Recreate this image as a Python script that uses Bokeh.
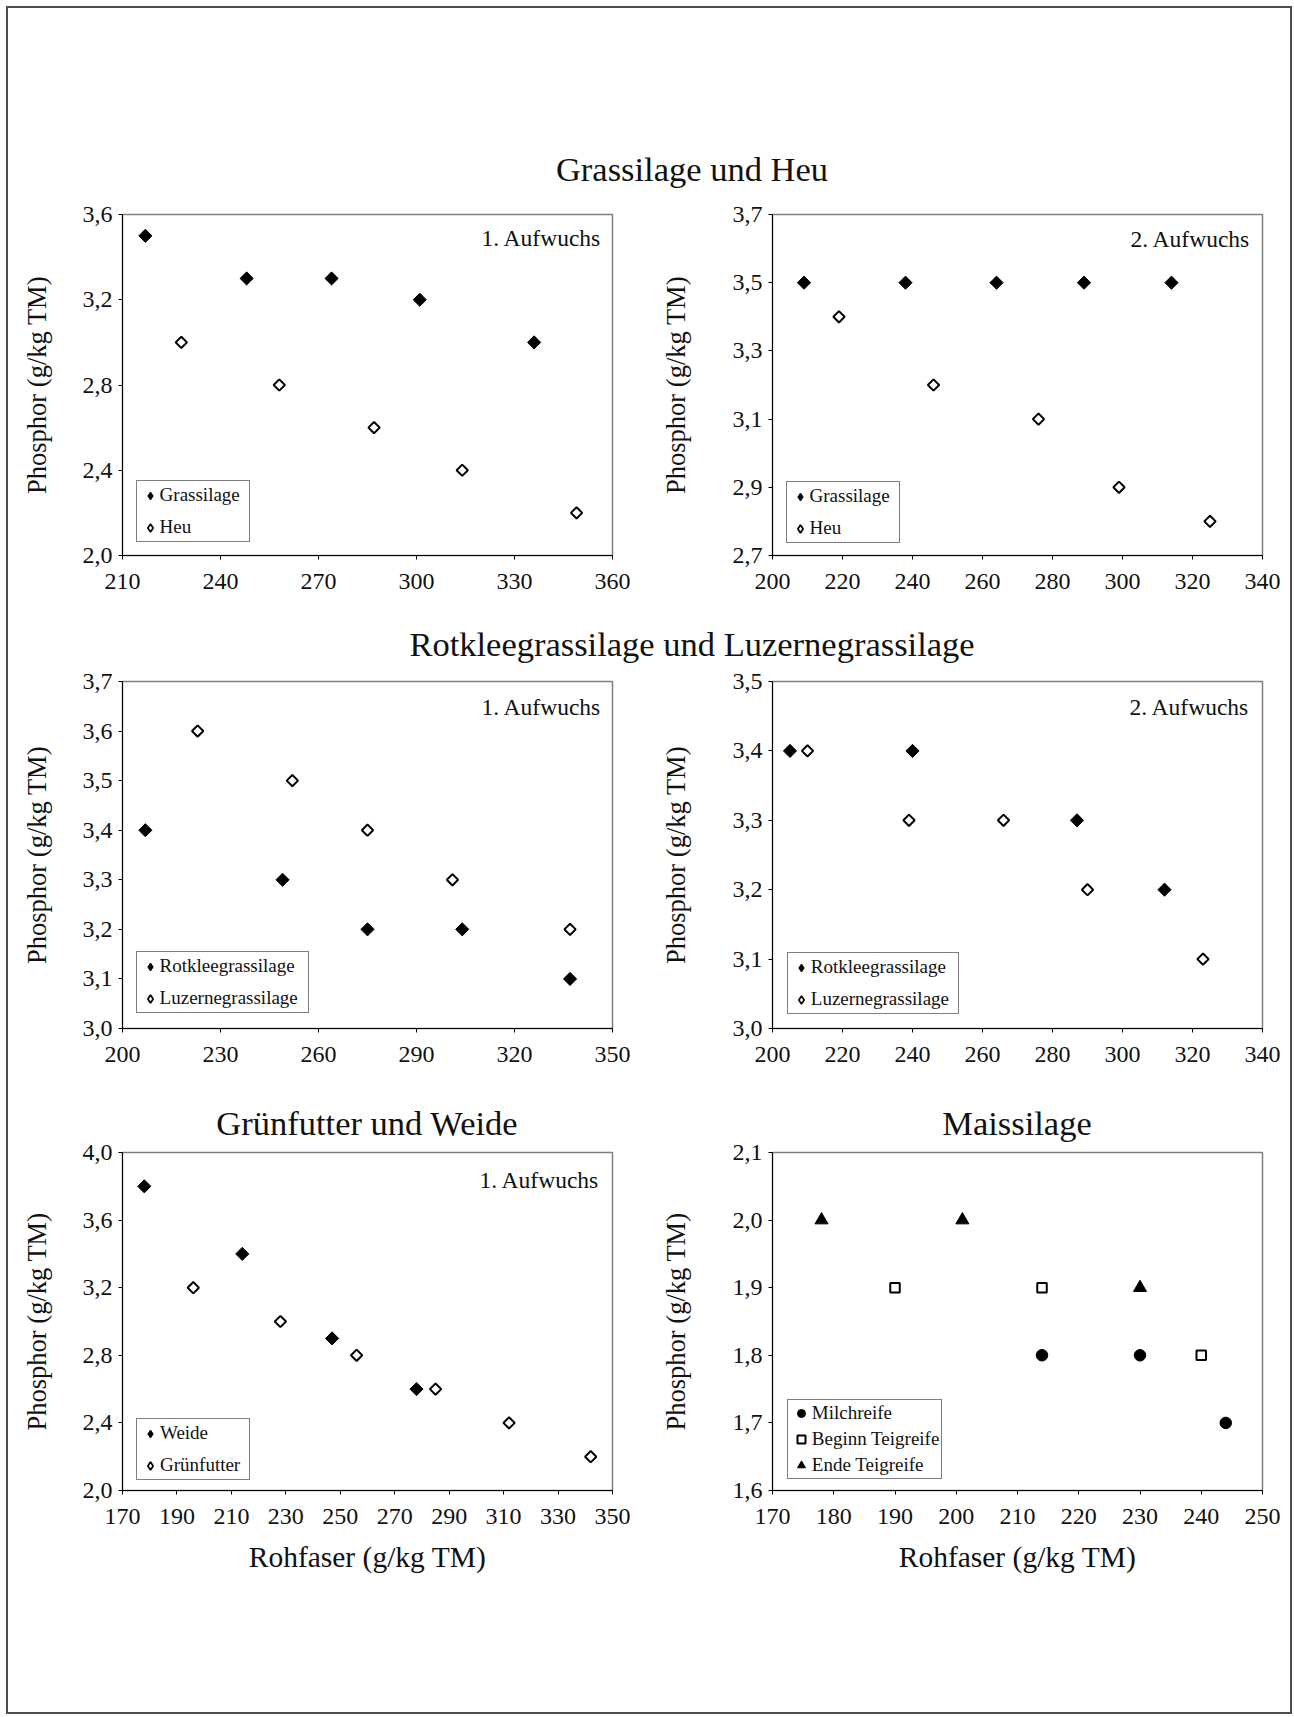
import math
from bokeh.plotting import figure
from bokeh.models import (Range1d, FixedTicker, CustomJSTickFormatter, Legend,
                          LegendItem, Label, Div)
from bokeh.layouts import column, row
from bokeh.core.properties import value
from bokeh.embed import file_html
from bokeh.resources import INLINE

FONT = "Liberation Serif"
TXT = "#111111"

# ---------------- data ----------------
# Grassilage und Heu, 1. Aufwuchs
gh1_gras_x = [217, 248, 274, 301, 336]
gh1_gras_y = [3.5, 3.3, 3.3, 3.2, 3.0]
gh1_heu_x = [228, 258, 287, 314, 349]
gh1_heu_y = [3.0, 2.8, 2.6, 2.4, 2.2]
gh1_xticks = [210, 240, 270, 300, 330, 360]
gh1_yticks = [2.0, 2.4, 2.8, 3.2, 3.6]

# Grassilage und Heu, 2. Aufwuchs
gh2_gras_x = [209, 238, 264, 289, 314]
gh2_gras_y = [3.5, 3.5, 3.5, 3.5, 3.5]
gh2_heu_x = [219, 246, 276, 299, 325]
gh2_heu_y = [3.4, 3.2, 3.1, 2.9, 2.8]
gh2_xticks = [200, 220, 240, 260, 280, 300, 320, 340]
gh2_yticks = [2.7, 2.9, 3.1, 3.3, 3.5, 3.7]

# Rotkleegrassilage und Luzernegrassilage, 1. Aufwuchs
rl1_rot_x = [207, 249, 275, 304, 337]
rl1_rot_y = [3.4, 3.3, 3.2, 3.2, 3.1]
rl1_luz_x = [223, 252, 275, 301, 337]
rl1_luz_y = [3.6, 3.5, 3.4, 3.3, 3.2]
rl1_xticks = [200, 230, 260, 290, 320, 350]
rl1_yticks = [3.0, 3.1, 3.2, 3.3, 3.4, 3.5, 3.6, 3.7]

# Rotkleegrassilage und Luzernegrassilage, 2. Aufwuchs
rl2_rot_x = [205, 240, 287, 312]
rl2_rot_y = [3.4, 3.4, 3.3, 3.2]
rl2_luz_x = [210, 239, 266, 290, 323]
rl2_luz_y = [3.4, 3.3, 3.3, 3.2, 3.1]
rl2_xticks = [200, 220, 240, 260, 280, 300, 320, 340]
rl2_yticks = [3.0, 3.1, 3.2, 3.3, 3.4, 3.5]

# Grünfutter und Weide, 1. Aufwuchs
gw_weide_x = [178, 214, 247, 278]
gw_weide_y = [3.8, 3.4, 2.9, 2.6]
gw_gruen_x = [196, 228, 256, 285, 312, 342]
gw_gruen_y = [3.2, 3.0, 2.8, 2.6, 2.4, 2.2]
gw_xticks = [170, 190, 210, 230, 250, 270, 290, 310, 330, 350]
gw_yticks = [2.0, 2.4, 2.8, 3.2, 3.6, 4.0]

# Maissilage
ms_milch_x = [214, 230, 244]
ms_milch_y = [1.8, 1.8, 1.7]
ms_beginn_x = [190, 214, 240]
ms_beginn_y = [1.9, 1.9, 1.8]
ms_ende_x = [178, 201, 230]
ms_ende_y = [2.0, 2.0, 1.9]
ms_xticks = [170, 180, 190, 200, 210, 220, 230, 240, 250]
ms_yticks = [1.6, 1.7, 1.8, 1.9, 2.0, 2.1]

Y_LABEL = "Phosphor (g/kg TM)"
X_LABEL = "Rohfaser (g/kg TM)"

# ---------------- layout geometry ----------------
W1, W2 = 631, 655                 # column widths
ML1, MR1 = 116, 25                # left col borders
ML2, MR2 = 135, 30                # right col borders
ROWS = [  # (height, top border, bottom border)
    (415, 14, 60),
    (423, 14, 62),
    (576, 14, 224),
]


def make_fig(col, rowi, xticks, yticks, xlabel=None):
    h, mt, mb = ROWS[rowi]
    w, ml, mr = (W1, ML1, MR1) if col == 0 else (W2, ML2, MR2)
    p = figure(width=w, height=h, title=None,
               x_range=Range1d(xticks[0], xticks[-1]),
               y_range=Range1d(yticks[0], yticks[-1]),
               toolbar_location=None, output_backend="svg",
               min_border_left=ml, min_border_right=mr,
               min_border_top=mt, min_border_bottom=mb,
               background_fill_color="white", border_fill_color=None,
               outline_line_color="#7f7f7f", outline_line_width=1.5)
    p.xgrid.visible = False
    p.ygrid.visible = False
    p.xaxis.ticker = FixedTicker(ticks=xticks)
    p.yaxis.ticker = FixedTicker(ticks=yticks)
    p.xaxis.formatter = CustomJSTickFormatter(code="return tick.toFixed(0);")
    p.yaxis.formatter = CustomJSTickFormatter(
        code="return tick.toFixed(1).replace('.', ',');")
    for ax in (p.xaxis[0], p.yaxis[0]):
        ax.axis_line_color = "black"
        ax.axis_line_width = 1
        ax.major_tick_line_color = "black"
        ax.major_tick_line_width = 1
        ax.major_tick_out = 4
        ax.major_tick_in = 0
        ax.minor_tick_line_color = None
        ax.major_label_text_font = FONT
        ax.major_label_text_font_size = "24px"
        ax.major_label_text_color = TXT
        ax.axis_label_text_font = FONT
        ax.axis_label_text_font_style = "normal"
        ax.axis_label_text_color = TXT
    p.yaxis.major_label_standoff = 6
    p.xaxis.major_label_standoff = 14
    p.yaxis.axis_label = Y_LABEL
    p.yaxis.axis_label_text_font_size = "26.5px"
    p.yaxis.axis_label_standoff = 28 if col == 0 else 39
    if xlabel:
        p.xaxis.axis_label = xlabel
        p.xaxis.axis_label_text_font_size = "29.5px"
        p.xaxis.axis_label_standoff = 14
    return p


def diamonds(p, x, y, filled):
    """Visible square-diamond markers plus a hidden upright-diamond twin that
    only supplies the legend key symbol."""
    if filled:
        p.scatter(x, y, marker="square", angle=math.pi / 4, size=9.3,
                  fill_color="black", line_color="black", line_width=1)
        return p.scatter(x, y, marker="diamond", fill_color="black",
                         line_color="black", line_width=1, visible=False)
    p.scatter(x, y, marker="square", angle=math.pi / 4, size=8.0,
              fill_color="white", line_color="black", line_width=2)
    return p.scatter(x, y, marker="diamond", fill_color="white",
                     line_color="black", line_width=1.7, visible=False)


def add_legend(p, items, loc, label_width, three=False):
    if three:
        kw = dict(padding=2, spacing=4, glyph_width=22, glyph_height=20,
                  label_height=20, label_standoff=0)
    else:
        kw = dict(padding=3, spacing=10, glyph_width=20, glyph_height=21,
                  label_height=21, label_standoff=0)
    leg = Legend(items=[LegendItem(label=value(t), renderers=[r]) for t, r in items],
                 location=loc, orientation="vertical", margin=0,
                 border_line_color="black", border_line_width=1,
                 background_fill_color="white", background_fill_alpha=1.0,
                 label_text_font=FONT, label_text_font_size="19px",
                 label_text_color=TXT, label_width=label_width, **kw)
    p.add_layout(leg)


def add_note(p, text, dy, dx=11):
    p.add_layout(Label(x=p.x_range.end, y=p.y_range.end, x_offset=-dx, y_offset=-dy,
                       text=text, text_align="right", text_baseline="middle",
                       text_font=FONT, text_font_size="23.5px", text_color=TXT))


def title_div(text, width, height, pad_left, pad_top):
    html = ('<div style="display:block;box-sizing:border-box;width:%dpx;'
            'padding-left:%dpx;padding-top:%dpx;text-align:center;'
            'font-family:\'%s\';font-size:34.5px;line-height:40px;color:%s;'
            'white-space:nowrap;">%s</div>') % (width, pad_left, pad_top, FONT, TXT, text)
    return Div(text=html, width=width, height=height, margin=0,
               styles={"overflow": "visible"})


# ---------------- panels ----------------
p1 = make_fig(0, 0, gh1_xticks, gh1_yticks)
k_a = diamonds(p1, gh1_gras_x, gh1_gras_y, True)
k_b = diamonds(p1, gh1_heu_x, gh1_heu_y, False)
add_legend(p1, [("Grassilage", k_a), ("Heu", k_b)], (13.6, 12.7), 86)
add_note(p1, "1. Aufwuchs", 23)

p2 = make_fig(1, 0, gh2_xticks, gh2_yticks)
k_a = diamonds(p2, gh2_gras_x, gh2_gras_y, True)
k_b = diamonds(p2, gh2_heu_x, gh2_heu_y, False)
add_legend(p2, [("Grassilage", k_a), ("Heu", k_b)], (13.5, 11.7), 86)
add_note(p2, "2. Aufwuchs", 24, 12)

p3 = make_fig(0, 1, rl1_xticks, rl1_yticks)
k_a = diamonds(p3, rl1_rot_x, rl1_rot_y, True)
k_b = diamonds(p3, rl1_luz_x, rl1_luz_y, False)
add_legend(p3, [("Rotkleegrassilage", k_a), ("Luzernegrassilage", k_b)],
           (13.6, 14.7), 145)
add_note(p3, "1. Aufwuchs", 25.5)

p4 = make_fig(1, 1, rl2_xticks, rl2_yticks)
k_a = diamonds(p4, rl2_rot_x, rl2_rot_y, True)
k_b = diamonds(p4, rl2_luz_x, rl2_luz_y, False)
add_legend(p4, [("Rotkleegrassilage", k_a), ("Luzernegrassilage", k_b)],
           (14.8, 13.7), 144)
add_note(p4, "2. Aufwuchs", 25.5, 13)

p5 = make_fig(0, 2, gw_xticks, gw_yticks, X_LABEL)
k_a = diamonds(p5, gw_weide_x, gw_weide_y, True)
k_b = diamonds(p5, gw_gruen_x, gw_gruen_y, False)
add_legend(p5, [("Weide", k_a), ("Grünfutter", k_b)], (14, 10), 86)
add_note(p5, "1. Aufwuchs", 27.5, 13)

p6 = make_fig(1, 2, ms_xticks, ms_yticks, X_LABEL)
r_m = p6.scatter(ms_milch_x, ms_milch_y, marker="circle", size=11.5,
                 fill_color="black", line_color="black")
r_bg = p6.scatter(ms_beginn_x, ms_beginn_y, marker="square", size=9.5,
                  fill_color="white", line_color="black", line_width=2)
r_e = p6.scatter(ms_ende_x, ms_ende_y, marker="triangle", size=13,
                 fill_color="black", line_color="black")
add_legend(p6, [("Milchreife", r_m), ("Beginn Teigreife", r_bg),
                ("Ende Teigreife", r_e)], (14.8, 11), 122, three=True)

# ---------------- titles ----------------
t1 = title_div("Grassilage und Heu", W1 + W2, 194, 86, 143)
t2 = title_div("Rotkleegrassilage und Luzernegrassilage", W1 + W2, 52, 86, 9)
t3a = title_div("Grünfutter und Weide", W1, 48, 91, 13)
t3b = title_div("Maissilage", W2, 48, 105, 13)

page = column(
    t1,
    row(p1, p2, spacing=0),
    t2,
    row(p3, p4, spacing=0),
    row(t3a, t3b, spacing=0),
    row(p5, p6, spacing=0),
    spacing=0,
    margin=(6, 0, 0, 6),
    styles={"outline": "2px solid #4d4d4d", "outline-offset": "-2px"},
)

open("out.html", "w").write(file_html(page, INLINE))
